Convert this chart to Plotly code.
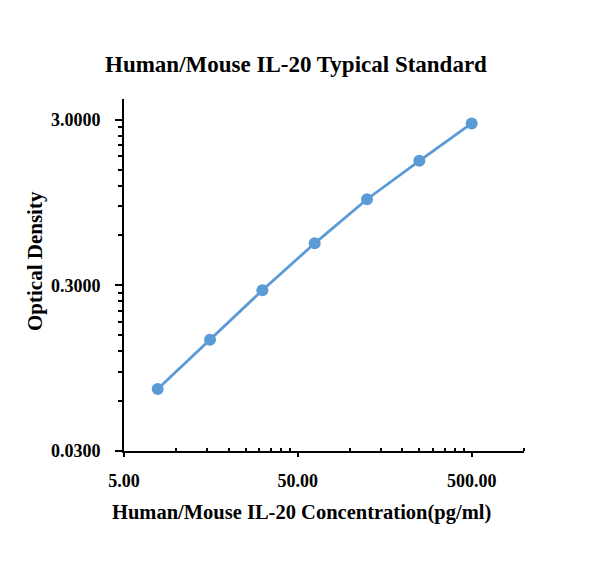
import math
import plotly.graph_objects as go

# standard curve readings
concentration = [7.8125, 15.625, 31.25, 62.5, 125, 250, 500]
optical_density = [0.071, 0.141, 0.280, 0.538, 0.993, 1.693, 2.847]

x_tickvals = [5, 50, 500]
x_ticktext = ["5.00", "50.00", "500.00"]
y_tickvals = [0.03, 0.3, 3]
y_ticktext = ["0.0300", "0.3000", "3.0000"]

x_minor = [10, 15, 20, 25, 30, 35, 40, 45,
           100, 150, 200, 250, 300, 350, 400, 450, 1000]
y_minor = [0.06, 0.09, 0.12, 0.15, 0.18, 0.21, 0.24, 0.27,
           0.6, 0.9, 1.2, 1.5, 1.8, 2.1, 2.4, 2.7]

FONT = "Liberation Serif"
BLUE = "#5B9BD5"

fig = go.Figure(go.Scatter(
    x=concentration,
    y=optical_density,
    mode="lines+markers",
    line=dict(color=BLUE, width=2.8),
    marker=dict(color=BLUE, size=12),
    showlegend=False,
))

# page is drawn with an 8px offset, so margins are pulled in accordingly
fig.update_layout(
    width=616,
    height=567,
    margin=dict(l=116, r=100, t=91, b=124),
    paper_bgcolor="white",
    plot_bgcolor="white",
    font=dict(family=FONT, color="black"),
)

fig.update_xaxes(
    type="log",
    range=[math.log10(5), math.log10(1000)],
    showgrid=False,
    zeroline=False,
    showline=True,
    linecolor="black",
    linewidth=2,
    tickmode="array",
    tickvals=x_tickvals,
    ticktext=x_ticktext,
    ticks="outside",
    ticklen=4,
    tickwidth=2,
    tickcolor="black",
    ticklabelstandoff=8,
    tickfont=dict(family=FONT, size=18, weight="bold", color="black"),
    minor=dict(tickmode="array", tickvals=x_minor, ticks="inside",
               ticklen=3, tickwidth=1.5, tickcolor="black", showgrid=False),
)

fig.update_yaxes(
    type="log",
    range=[math.log10(0.03), math.log10(4)],
    showgrid=False,
    zeroline=False,
    showline=True,
    linecolor="black",
    linewidth=2,
    tickmode="array",
    tickvals=y_tickvals,
    ticktext=y_ticktext,
    ticks="outside",
    ticklen=7,
    tickwidth=2,
    tickcolor="black",
    ticklabelstandoff=11,
    tickfont=dict(family=FONT, size=18, weight="bold", color="black"),
    minor=dict(tickmode="array", tickvals=y_minor, ticks="outside",
               ticklen=4, tickwidth=1.5, tickcolor="black", showgrid=False),
)

fig.add_annotation(
    text="<b>Human/Mouse IL-20 Typical Standard</b>",
    xref="paper", yref="paper",
    x=(295.5 - 124) / 400, y=(451 - 64) / 352,
    xanchor="center", yanchor="middle",
    showarrow=False, font=dict(family=FONT, size=23, color="black"),
)
fig.add_annotation(
    text="<b>Human/Mouse IL-20 Concentration(pg/ml)</b>",
    xref="paper", yref="paper",
    x=(301 - 124) / 400, y=(451 - 512) / 352,
    xanchor="center", yanchor="middle",
    showarrow=False, font=dict(family=FONT, size=20.5, color="black"),
)
fig.add_annotation(
    text="<b>Optical Density</b>",
    xref="paper", yref="paper",
    x=(35 - 124) / 400, y=(451 - 261) / 352,
    xanchor="center", yanchor="middle", textangle=-90,
    showarrow=False, font=dict(family=FONT, size=21, color="black"),
)

fig.write_html("out.html")
